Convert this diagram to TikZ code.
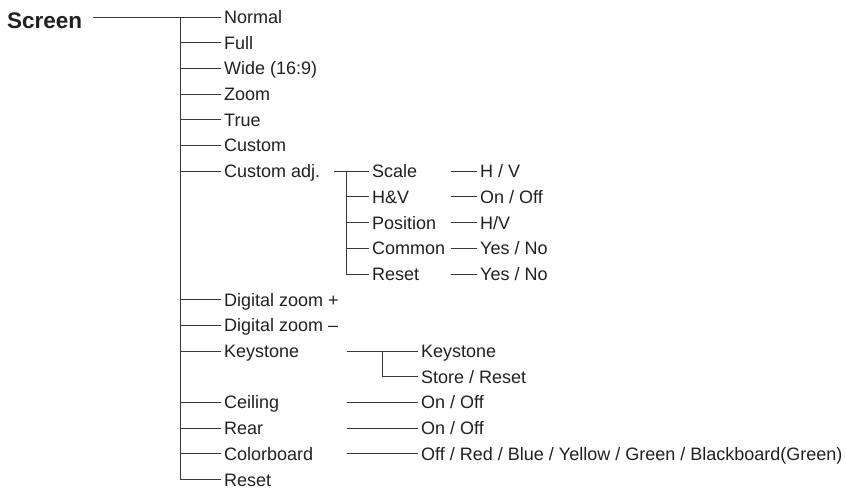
\documentclass[tikz,border=0pt]{standalone}
\usepackage{fontspec}
\setmainfont{Liberation Sans}
\definecolor{ink}{HTML}{231F20}
\begin{document}
\begin{tikzpicture}[x=1pt,y=-1pt,
  lbl/.style={anchor=west,inner xsep=3pt,inner ysep=0pt,text height=12.9pt,text depth=0pt,
    font=\fontsize{18pt}{20pt}\selectfont,text=ink},
  ln/.style={draw=ink!90,line width=0.9pt}]
\useasboundingbox (0,0) rectangle (846,488);
\def\dy{25.7}
% Screen
\node[anchor=base west,inner sep=0pt,font=\fontsize{22.5pt}{24pt}\selectfont\bfseries,text=ink] (scr) at (7,28) {Screen};
\coordinate (s0) at (93,17);
% main column
\foreach \i/\t in {0/Normal,1/Full,2/Wide (16:9),3/Zoom,4/True,5/Custom,6/Custom adj.,11/Digital zoom +,12/Digital zoom --,13/Keystone,15/Ceiling,16/Rear,17/Colorboard,18/Reset}
  \node[lbl] (n\i) at (221,17+\i*\dy) {\t};
\coordinate (t0) at (180,17);
\draw[ln] (s0) -- (n0.west);
\draw[ln] (t0) |- (n18.west);
\foreach \i in {1,2,3,4,5,6,11,12,13,15,16,17}
  \draw[ln] (t0 |- n\i.west) -- (n\i.west);
% Custom adj. submenu
\coordinate (c0) at (334,17+6*\dy);
\coordinate (cj) at (346,17+6*\dy);
\foreach \i/\t in {6/Scale,7/H\&V,8/Position,9/Common,10/Reset}
  \node[lbl] (m\i) at (369,17+\i*\dy) {\t};
\draw[ln] (c0) -- (m6.west);
\draw[ln] (cj) |- (m10.west);
\foreach \i in {7,8,9}
  \draw[ln] (cj |- m\i.west) -- (m\i.west);
% third column
\foreach \i/\t in {6/{H / V},7/{On / Off},8/{H/V},9/{Yes / No},10/{Yes / No}}{
  \coordinate (a\i) at (451,17+\i*\dy);
  \node[lbl] (v\i) at (477,17+\i*\dy) {\t};
  \draw[ln] (a\i) -- (v\i.west);
}
% Keystone submenu
\coordinate (k0) at (347,17+13*\dy);
\coordinate (kj) at (382,17+13*\dy);
\node[lbl] (k13) at (418,17+13*\dy) {Keystone};
\node[lbl] (k14) at (418,17+14*\dy) {Store / Reset};
\draw[ln] (k0) -- (k13.west);
\draw[ln] (kj) |- (k14.west);
% Ceiling, Rear, Colorboard options
\foreach \i/\t in {15/{On / Off},16/{On / Off},17/{Off / Red / Blue / Yellow / Green / Blackboard(Green)}}{
  \coordinate (o\i) at (347,17+\i*\dy);
  \node[lbl] (w\i) at (418,17+\i*\dy) {\t};
  \draw[ln] (o\i) -- (w\i.west);
}
\end{tikzpicture}
\end{document}
